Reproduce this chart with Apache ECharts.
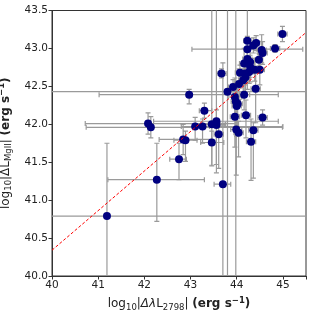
<!DOCTYPE html>
<html>
<head>
<meta charset="utf-8">
<script src="https://cdn.jsdelivr.net/npm/echarts@6/dist/echarts.min.js"></script>
<style>html,body{margin:0;padding:0;background:#fff}#c{width:315px;height:315px}</style>
</head>
<body>
<div id="c"></div>
<script>
// log10|ΔλL2798| values
const xVals = [41.19,42.27,42.08,42.14,42.75,42.84,42.89,42.97,43.10,43.26,43.30,43.46,43.56,43.56,43.61,43.46,43.70,43.67,43.80,43.92,43.96,43.98,44.00,44.02,44.16,43.96,44.20,44.41,44.56,43.99,44.04,44.36,44.31,44.99,44.23,44.23,44.42,44.36,44.54,44.56,44.83,44.48,44.23,44.29,44.16,44.29,44.07,44.18,44.27,44.39,44.50,44.19,44.14,44.05];
// log10|ΔL_MgII| values
const yVals = [40.79,41.27,42.01,41.96,41.54,41.80,41.79,42.39,41.97,41.97,42.18,42.00,42.04,41.99,41.87,41.76,41.21,42.67,42.43,42.49,42.36,42.30,42.24,42.27,42.39,42.10,42.12,42.47,42.09,41.93,41.89,41.92,41.77,43.19,43.10,42.99,43.07,43.04,42.98,42.94,43.00,42.85,42.86,42.82,42.80,42.76,42.68,42.67,42.69,42.72,42.72,42.62,42.58,42.53];
const xErrLo = [3.0,1.06,1.36,1.40,0.20,0.52,0.25,1.95,0.30,0.15,0.11,0.20,1.36,0.18,0.10,0.24,0.19,0.10,4.0,0.10,0.15,0.10,0.10,0.10,0.10,0.10,0.10,0.10,0.10,0.12,0.10,0.10,0.10,0.10,0.08,1.20,0.08,0.08,0.10,0.10,0.10,0.08,0.10,0.10,0.10,0.10,0.10,0.10,0.10,0.10,0.10,0.10,0.10,0.10];
const xErrHi = [6.0,1.03,1.90,2.85,0.16,0.62,0.25,1.93,1.90,0.15,0.16,0.30,1.34,0.18,0.10,0.26,0.17,0.10,2.0,0.10,0.15,0.10,0.10,0.10,0.12,0.10,0.10,0.10,0.10,0.12,0.10,0.10,0.10,0.10,0.08,1.20,0.08,0.08,0.10,0.10,0.10,0.08,0.10,0.10,0.10,0.10,0.10,0.10,0.10,0.10,0.10,0.10,0.10,0.10];
const yErrLo = [2.0,0.55,0.14,0.14,0.27,0.20,0.28,0.12,0.18,0.22,0.10,0.55,0.68,0.52,0.45,0.30,2.0,0.06,3.0,0.10,0.30,3.0,0.40,0.30,0.20,0.40,0.30,0.45,0.10,0.60,0.32,0.63,0.51,0.10,0.30,0.10,0.10,0.10,0.17,0.15,0.05,0.08,0.40,0.20,0.20,0.20,0.20,0.15,0.15,0.15,0.20,0.20,0.15,0.20];
const yErrHi = [0.96,0.48,0.14,0.14,0.21,0.20,0.12,0.07,0.12,0.10,0.10,1.60,1.60,0.20,0.15,0.15,1.60,0.06,2.0,0.10,0.25,2.0,0.30,0.30,0.20,0.20,0.20,0.20,0.10,0.20,0.15,0.10,0.30,0.10,0.60,0.10,0.10,0.10,0.20,0.15,0.05,0.08,0.30,0.20,0.20,0.15,0.10,0.10,0.15,0.15,0.20,0.20,0.15,0.20];
// dashed reference line
const fitX = [40.0, 45.5];
const fitY = [40.34, 43.21];
const xTicks = [40, 41, 42, 43, 44, 45];
const yTicks = [40.0, 40.5, 41.0, 41.5, 42.0, 42.5, 43.0, 43.5];

const pts = xVals.map((x, i) => [x, yVals[i]]);
const errData = xVals.map((x, i) => [x, yVals[i], xErrLo[i], xErrHi[i], yErrLo[i], yErrHi[i]]);

const chart = echarts.init(document.getElementById('c'), null, {renderer: 'canvas'});
const font = 'DejaVu Sans';
const errStyle = {stroke: '#9a9a9a', lineWidth: 1.2};
const FS = 12, SS = 8.5;
const rich = {
  n: {fontSize: FS, fontFamily: font, color: '#222', lineHeight: 16},
  i: {fontSize: FS, fontFamily: font, color: '#222', fontStyle: 'italic', lineHeight: 16},
  b: {fontSize: FS, fontFamily: font, color: '#222', fontWeight: 'bold', lineHeight: 16},
  s: {fontSize: SS, fontFamily: font, color: '#222', lineHeight: 10, verticalAlign: 'bottom'},
  p: {fontSize: SS, fontFamily: font, color: '#222', fontWeight: 'bold', lineHeight: 10, verticalAlign: 'top'}
};

chart.setOption({
  animation: false,
  backgroundColor: '#fff',
  grid: {left: 52, right: 9, top: 10.5, bottom: 39, show: true, borderColor: '#333', borderWidth: 1,
    backgroundColor: 'transparent', containLabel: false, outerBoundsMode: 'none'},
  xAxis: {
    type: 'value', min: xTicks[0], max: 45.5, interval: 1,
    axisLine: {show: true, onZero: false, lineStyle: {color: '#333', width: 1}},
    axisTick: {show: true, inside: false, length: 3.5, lineStyle: {color: '#333'}},
    splitLine: {show: false},
    axisLabel: {color: '#222', fontFamily: font, fontSize: 10.5, margin: 4,
      formatter: v => xTicks.includes(v) ? String(v) : ''},
    name: '{n|log}{s|10}{n||}{i|Δλ}{n|L}{s|2798}{n|| }{b|(erg s}{p|−1}{b|)}',
    nameLocation: 'middle', nameGap: 14,
    nameTextStyle: {fontFamily: font, color: '#222', rich: rich}
  },
  yAxis: {
    type: 'value', min: yTicks[0], max: yTicks[yTicks.length - 1], interval: 0.5,
    axisLine: {show: true, onZero: false, lineStyle: {color: '#333', width: 1}},
    axisTick: {show: true, inside: false, length: 3.5, lineStyle: {color: '#333'}},
    splitLine: {show: false},
    axisLabel: {color: '#222', fontFamily: font, fontSize: 10.5, margin: 4,
      formatter: v => v.toFixed(1)},
    name: '{n|log}{s|10}{n||ΔL}{s|MgII}{n|| }{b|(erg s}{p|−1}{b|)}',
    nameLocation: 'middle', nameGap: 24, nameRotate: 90,
    nameTextStyle: {fontFamily: font, color: '#222', rich: rich}
  },
  series: [
    {
      type: 'custom', clip: true, z: 1, silent: true,
      data: errData,
      encode: {x: 0, y: 1},
      renderItem: function (params, api) {
        const x = api.value(0), y = api.value(1);
        const pl = api.coord([x - api.value(2), y]);
        const pr = api.coord([x + api.value(3), y]);
        const pb = api.coord([x, y - api.value(4)]);
        const pt = api.coord([x, y + api.value(5)]);
        const c = 2.5;
        const L = (x1, y1, x2, y2) => ({type: 'line', shape: {x1, y1, x2, y2}, style: errStyle});
        return {type: 'group', children: [
          L(pl[0], pl[1], pr[0], pr[1]),
          L(pb[0], pb[1], pt[0], pt[1]),
          L(pl[0], pl[1] - c, pl[0], pl[1] + c),
          L(pr[0], pr[1] - c, pr[0], pr[1] + c),
          L(pb[0] - c, pb[1], pb[0] + c, pb[1]),
          L(pt[0] - c, pt[1], pt[0] + c, pt[1])
        ]};
      }
    },
    {
      type: 'scatter', z: 3, data: pts, symbol: 'circle', symbolSize: 8,
      itemStyle: {color: '#000080', opacity: 1}, silent: true
    },
    {
      type: 'line', z: 4, data: fitX.map((x, i) => [x, fitY[i]]), symbol: 'none', silent: true,
      lineStyle: {color: '#ff0000', width: 1, type: [3, 2]}
    }
  ]
});
</script>
</body>
</html>
